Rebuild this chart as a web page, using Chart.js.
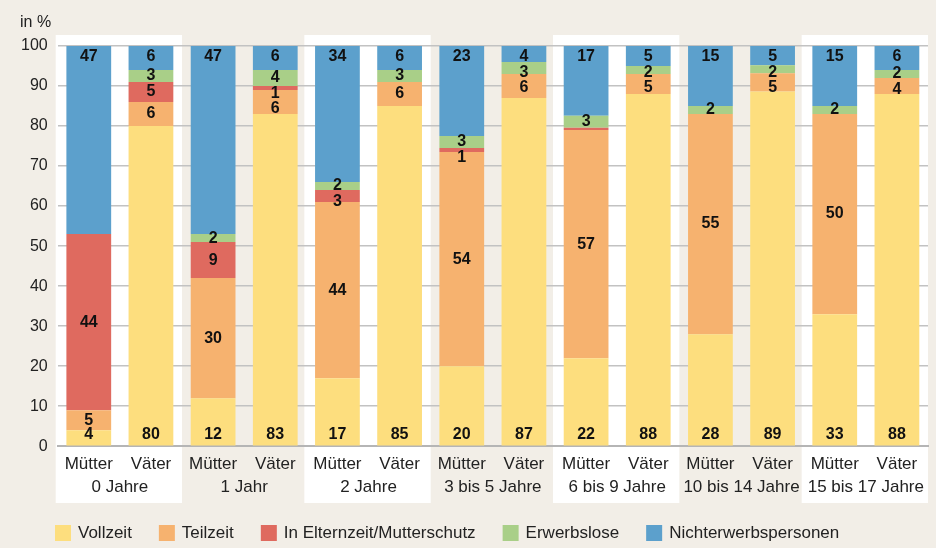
<!DOCTYPE html>
<html lang="de">
<head>
<meta charset="utf-8">
<title>Erwerbsbeteiligung von Müttern und Vätern</title>
<script src="https://cdn.jsdelivr.net/npm/chart.js@4/dist/chart.umd.min.js"></script>
<style>
  html, body { margin: 0; padding: 0; background: #f2eee7; }
  #wrap { width: 936px; height: 548px; }
</style>
</head>
<body>
<div id="wrap"><canvas id="erwerbChart" width="936" height="548"></canvas></div>
<script>
// Altersgruppen des jüngsten Kindes
const kategorien = ['0 Jahre', '1 Jahr', '2 Jahre', '3 bis 5 Jahre', '6 bis 9 Jahre', '10 bis 14 Jahre', '15 bis 17 Jahre'];
const eltern = ['Mütter', 'Väter'];
const yTicks = [0, 10, 20, 30, 40, 50, 60, 70, 80, 90, 100];

// Werte in %, je Balken (Mütter, Väter, Mütter, Väter ...)
const vollzeit    = [4, 80, 12, 83, 17, 85, 20, 87, 22, 88, 28, 88.6, 33, 88];
const teilzeit    = [5, 6, 30, 6, 44, 6, 53.5, 6, 57, 5, 55, 4.6, 50, 4];
const elternzeit  = [44, 5, 9, 1, 3, 0, 1, 0, 0.6, 0, 0, 0, 0, 0];
const erwerbslose = [0, 3, 2, 4, 2, 3, 3, 3, 3, 2, 2, 2, 2, 2];
const nichterwerb = [47, 6, 47, 6, 34, 6, 22.5, 4, 17.4, 5, 15, 4.8, 15, 6];

const schrift = "'Liberation Sans', 'DejaVu Sans', sans-serif";

const labels = [];
kategorien.forEach(() => eltern.forEach(e => labels.push([e, ''])));

// weisse Felder hinter jeder zweiten Altersgruppe, Gruppennamen, Legende
const gruppenPlugin = {
    id: 'gruppen',
    beforeDraw(chart) {
        const ctx = chart.ctx;
        const x = chart.scales.x;
        const halb = (x.getPixelForValue(1) - x.getPixelForValue(0)) / 2;
        ctx.save();
        ctx.fillStyle = '#ffffff';
        kategorien.forEach((k, i) => {
            if (i % 2 !== 0) return;
            const links = x.getPixelForValue(i * 2) - halb;
            const rechts = x.getPixelForValue(i * 2 + 1) + halb;
            ctx.fillRect(links - 2, 35, rechts - links + 2, 468);
        });
        ctx.restore();
    },
    afterDraw(chart) {
        const ctx = chart.ctx;
        const x = chart.scales.x;
        ctx.save();
        ctx.fillStyle = '#222';
        ctx.font = '17px ' + schrift;
        ctx.textAlign = 'center';
        ctx.textBaseline = 'middle';
        kategorien.forEach((k, i) => {
            const mitte = (x.getPixelForValue(i * 2) + x.getPixelForValue(i * 2 + 1)) / 2;
            ctx.fillText(k, mitte, 487);
        });
        ctx.textAlign = 'left';
        ctx.font = '16px ' + schrift;
        ctx.fillText('in %', 20, 23);

        // Legende
        ctx.font = '17px ' + schrift;
        let lx = 55;
        chart.data.datasets.forEach(ds => {
            ctx.fillStyle = ds.backgroundColor;
            ctx.fillRect(lx, 525, 16, 16);
            ctx.fillStyle = '#222';
            ctx.fillText(ds.label, lx + 23, 533);
            lx += 23 + ctx.measureText(ds.label).width + 27;
        });
        ctx.restore();
    }
};

// Zahlen in den Segmenten, kleine Segmente auseinandergeschoben
const wertePlugin = {
    id: 'werte',
    afterDatasetsDraw(chart) {
        const ctx = chart.ctx;
        const ds = chart.data.datasets;
        ctx.save();
        ctx.fillStyle = '#111';
        ctx.font = 'bold 16px ' + schrift;
        ctx.textAlign = 'center';
        ctx.textBaseline = 'middle';
        labels.forEach((l, i) => {
            let vorher = null;
            for (let di = ds.length - 1; di >= 0; di--) {
                const v = ds[di].data[i];
                if (v < 0.8) continue;
                const bar = chart.getDatasetMeta(di).data[i];
                let y = (bar.y + bar.base) / 2;
                if (di === 0) y = bar.base - 11;
                if (di === ds.length - 1) y = bar.y + 11;
                if (di !== 0 && vorher !== null && y < vorher + 15.5) y = vorher + 15.5;
                ctx.fillText(Math.round(v), bar.x, y);
                vorher = y;
            }
        });
        ctx.restore();
    }
};

new Chart(document.getElementById('erwerbChart'), {
    type: 'bar',
    data: {
        labels,
        datasets: [
            { label: 'Vollzeit', data: vollzeit, backgroundColor: '#fdde7e' },
            { label: 'Teilzeit', data: teilzeit, backgroundColor: '#f6b26f' },
            { label: 'In Elternzeit/Mutterschutz', data: elternzeit, backgroundColor: '#df6a5f' },
            { label: 'Erwerbslose', data: erwerbslose, backgroundColor: '#a9cf88' },
            { label: 'Nichterwerbspersonen', data: nichterwerb, backgroundColor: '#5ca0cc' }
        ]
    },
    options: {
        responsive: false,
        animation: false,
        layout: { padding: { top: 46, right: 8, left: 11, bottom: 53 } },
        datasets: { bar: { barPercentage: 0.72, categoryPercentage: 1 } },
        scales: {
            x: {
                stacked: true,
                grid: { display: false },
                border: { color: '#b5b5b5', width: 2 },
                ticks: { color: '#222', font: { size: 17, family: schrift, lineHeight: 1.2 }, maxRotation: 0, padding: 0 }
            },
            y: {
                stacked: true,
                min: 0,
                max: 100,
                afterBuildTicks: axis => { axis.ticks = yTicks.map(v => ({ value: v })); },
                grid: { color: '#c2c2c2', lineWidth: 1.5, drawTicks: false },
                border: { display: false },
                ticks: { color: '#222', font: { size: 16, family: schrift }, padding: 10 }
            }
        },
        plugins: {
            legend: { display: false },
            tooltip: { enabled: false }
        }
    },
    plugins: [gruppenPlugin, wertePlugin]
});
</script>
</body>
</html>
